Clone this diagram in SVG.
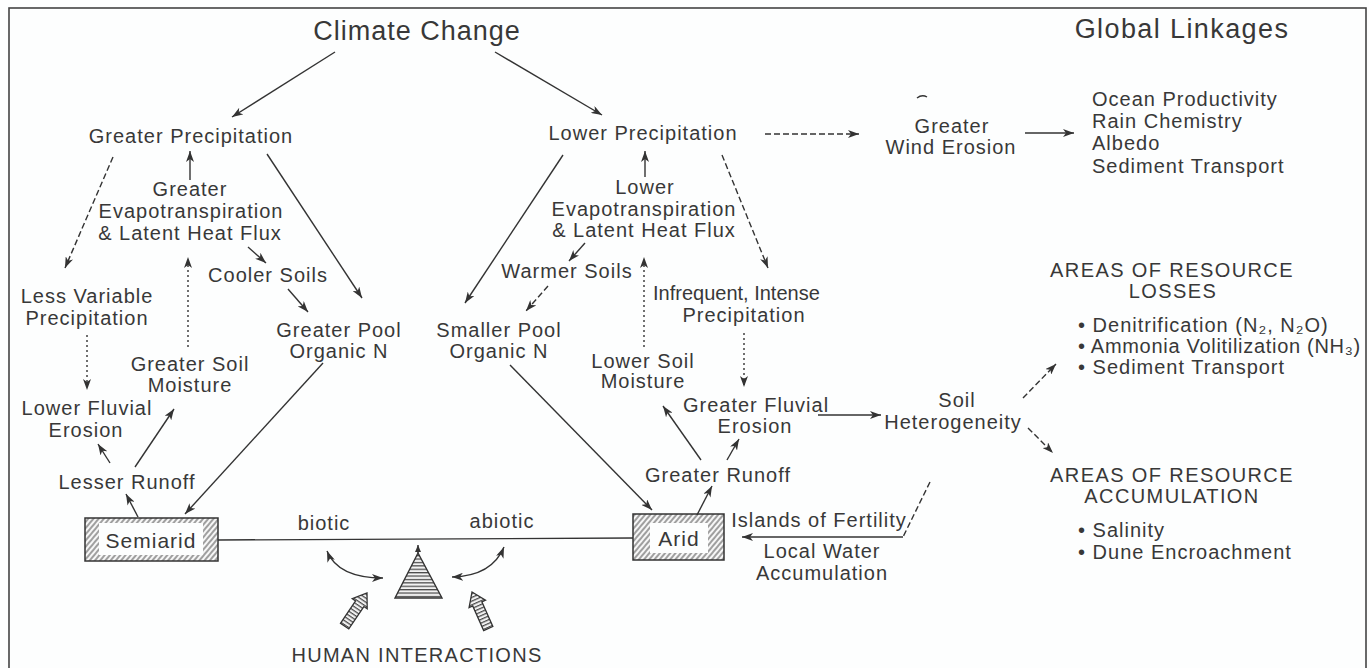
<svg xmlns="http://www.w3.org/2000/svg" width="1369" height="668" viewBox="0 0 1369 668">
<style>
text{font-family:"Liberation Sans",Arial,sans-serif;fill:#383838;font-size:20px;letter-spacing:1px;text-anchor:middle}
.title{font-size:27px}
.st{text-anchor:start}
.ln{fill:none;stroke:#333;stroke-width:1.4}
.dash{stroke-dasharray:6,3}
.dot{stroke-dasharray:2,3}
.arr{marker-end:url(#ah)}
.dbl{marker-start:url(#ah);marker-end:url(#ah)}
.box{stroke:#333;stroke-width:1.5;fill:url(#hatch)}
</style>
<defs>
<marker id="ah" markerWidth="12" markerHeight="8" refX="11" refY="4" orient="auto-start-reverse" markerUnits="userSpaceOnUse"><path d="M0,0 L11,4 L0,8 L3,4 z" fill="#333"/></marker>
<marker id="ahs" markerWidth="7" markerHeight="6" refX="7" refY="3" orient="auto" markerUnits="userSpaceOnUse"><path d="M0,0 L7,3 L0,6 z" fill="#333"/></marker>
<pattern id="hatch" patternUnits="userSpaceOnUse" width="4" height="4" patternTransform="rotate(40)"><rect width="4" height="4" fill="#f7f7f7"/><line x1="1" y1="0" x2="1" y2="4" stroke="#333" stroke-width="0.9"/></pattern>
<pattern id="hstripe" patternUnits="userSpaceOnUse" width="4" height="3.4"><rect width="4" height="3.4" fill="#f2f2f2"/><line x1="0" y1="1.5" x2="4" y2="1.5" stroke="#333" stroke-width="1.1"/></pattern>
</defs>
<rect x="0" y="0" width="1369" height="668" fill="#fdfefe"/>
<rect x="9" y="8" width="1357" height="668" fill="none" stroke="#444" stroke-width="1.6"/>

<g id="climate-change"><text class="title" x="417" y="40">Climate Change</text></g>
<g id="global-linkages"><text class="title" x="1182" y="38" style="letter-spacing:1.4px">Global Linkages</text></g>

<g id="greater-precipitation"><text x="191" y="143">Greater Precipitation</text></g>
<g id="greater-evapotranspiration"><text x="190" y="196">Greater</text><text x="191" y="218">Evapotranspiration</text><text x="190" y="240">&amp; Latent Heat Flux</text></g>
<g id="cooler-soils"><text x="268" y="282">Cooler Soils</text></g>
<g id="less-variable-precipitation"><text x="87" y="303">Less Variable</text><text x="87" y="325">Precipitation</text></g>
<g id="greater-soil-moisture"><text x="190" y="371">Greater Soil</text><text x="190" y="392">Moisture</text></g>
<g id="greater-pool"><text x="339" y="337">Greater Pool</text><text x="339" y="358">Organic N</text></g>
<g id="lower-fluvial-erosion"><text x="87" y="415">Lower Fluvial</text><text x="86" y="437">Erosion</text></g>
<g id="lesser-runoff"><text x="127" y="489">Lesser Runoff</text></g>
<g id="semiarid"><rect class="box" x="85" y="518" width="133" height="43"/><rect x="99" y="523" width="104" height="32" fill="#fdfefe"/><text x="151" y="548" style="font-size:21px">Semiarid</text></g>

<g id="lower-precipitation"><text x="643" y="140">Lower Precipitation</text></g>
<g id="lower-evapotranspiration"><text x="645" y="194">Lower</text><text x="644" y="216">Evapotranspiration</text><text x="644" y="237">&amp; Latent Heat Flux</text></g>
<g id="warmer-soils"><text x="567" y="278">Warmer Soils</text></g>
<g id="smaller-pool"><text x="499" y="337">Smaller Pool</text><text x="499" y="358">Organic N</text></g>
<g id="infrequent-precipitation"><text class="st" x="653" y="300" style="letter-spacing:0">Infrequent, Intense</text><text x="744" y="322">Precipitation</text></g>
<g id="lower-soil-moisture"><text x="643" y="368">Lower Soil</text><text x="643" y="388">Moisture</text></g>
<g id="greater-fluvial-erosion"><text x="756" y="412">Greater Fluvial</text><text x="755" y="433">Erosion</text></g>
<g id="greater-runoff"><text x="718" y="482">Greater Runoff</text></g>
<g id="arid"><rect class="box" x="633" y="514" width="91" height="46"/><rect x="650" y="523" width="58" height="30" fill="#fdfefe"/><text x="679" y="546" style="font-size:21px">Arid</text></g>
<g id="islands-of-fertility"><text x="819" y="527">Islands of Fertility</text><text x="822" y="558">Local Water</text><text x="822" y="580">Accumulation</text></g>

<g id="greater-wind-erosion"><path d="M917 98 Q922 94 927 97" class="ln" stroke-width="1.2"/><text x="952" y="133">Greater</text><text x="951" y="154">Wind Erosion</text></g>
<g id="global-effects"><text class="st" x="1092" y="106">Ocean Productivity</text><text class="st" x="1092" y="128">Rain Chemistry</text><text class="st" x="1092" y="150">Albedo</text><text class="st" x="1092" y="173">Sediment Transport</text></g>
<g id="soil-heterogeneity"><text x="957" y="407">Soil</text><text x="953" y="429">Heterogeneity</text></g>
<g id="resource-losses"><text x="1172" y="277" style="letter-spacing:1.4px">AREAS OF RESOURCE</text><text x="1173" y="298" style="letter-spacing:1.4px">LOSSES</text>
<text class="st" x="1078" y="332">• Denitrification (N₂, N₂O)</text>
<text class="st" x="1078" y="353" style="letter-spacing:0.7px">• Ammonia Volitilization (NH₃)</text>
<text class="st" x="1078" y="374">• Sediment Transport</text></g>
<g id="resource-accumulation"><text x="1172" y="482" style="letter-spacing:1.4px">AREAS OF RESOURCE</text><text x="1172" y="503" style="letter-spacing:1.4px">ACCUMULATION</text>
<text class="st" x="1078" y="537">• Salinity</text><text class="st" x="1078" y="559">• Dune Encroachment</text></g>

<g id="human-interactions">
<polygon points="418,553 395,598 442,598" fill="url(#hstripe)" stroke="#333" stroke-width="1.4"/>
<g transform="translate(367,593) rotate(34)"><polygon points="0,0 9,13 5,13 5,40 -5,40 -5,13 -9,13" fill="url(#hstripe)" stroke="#333" stroke-width="1.3"/></g>
<g transform="translate(472,592) rotate(-24)"><polygon points="0,0 9,13 5,13 5,40 -5,40 -5,13 -9,13" fill="url(#hstripe)" stroke="#333" stroke-width="1.3"/></g>
<text x="417" y="662" style="letter-spacing:1.3px">HUMAN INTERACTIONS</text></g>

<g id="connectors">
<path class="ln arr" d="M335 52 L232 117"/>
<path class="ln arr" d="M495 52 L602 115"/>
<path class="ln arr dash" d="M113 157 L65 268"/>
<path class="ln arr" d="M190 180 L190 151"/>
<path class="ln arr" d="M267 154 L362 298"/>
<path class="ln arr" d="M248 247 L266 263"/>
<path class="ln arr dot" d="M188 347 L188 257"/>
<path class="ln arr" d="M288 289 L308 312"/>
<path class="ln arr dot" d="M87 335 L87 390"/>
<path class="ln arr" d="M110 463 L98 444"/>
<path class="ln arr" d="M135 467 L174 409"/>
<path class="ln arr" d="M138 517 L126 494"/>
<path class="ln arr" d="M323 363 L185 514"/>
<path class="ln" d="M218 540 L633 538"/>
<text x="324" y="530">biotic</text>
<text x="502" y="528">abiotic</text>
<path class="ln" d="M418 553 L418 545" marker-end="url(#ahs)"/>
<path class="ln dbl" d="M327 551 Q338 578 383 578"/>
<path class="ln dbl" d="M452 577 Q492 576 504 547"/>
<path class="ln arr" d="M563 155 L465 303"/>
<path class="ln arr" d="M645 177 L645 151"/>
<path class="ln arr" d="M585 243 L569 261"/>
<path class="ln arr dash" d="M548 286 L526 311"/>
<path class="ln arr dot" d="M644 347 L644 257"/>
<path class="ln arr dash" d="M722 155 L768 268"/>
<path class="ln arr dot" d="M744 333 L744 387"/>
<path class="ln arr" d="M510 365 L652 510"/>
<path class="ln arr" d="M701 460 L663 406"/>
<path class="ln arr" d="M727 460 L739 439"/>
<path class="ln arr" d="M697 515 L712 486"/>
<path class="ln arr dash" d="M765 134 L859 134"/>
<path class="ln arr" d="M1025 133 L1074 133"/>
<path class="ln arr" d="M818 415 L881 415"/>
<path class="ln arr dash" d="M1023 398 L1056 364"/>
<path class="ln arr dash" d="M1028 428 L1053 453"/>
<path class="ln dash" d="M930 482 L903 537"/>
<path class="ln arr" d="M903 537 L742 537"/>
</g>
</svg>
